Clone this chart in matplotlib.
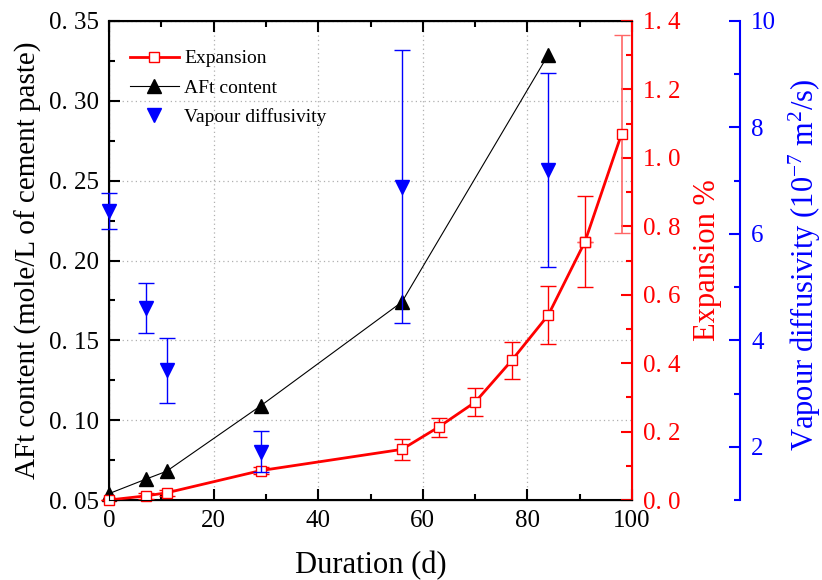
import matplotlib
matplotlib.use("Agg")
import matplotlib.pyplot as plt
from matplotlib.ticker import MultipleLocator, FuncFormatter
from matplotlib.lines import Line2D

plt.rcParams['font.family'] = ['Liberation Serif', 'DejaVu Serif']
plt.rcParams['mathtext.fontset'] = 'custom'
plt.rcParams['mathtext.rm'] = 'Liberation Serif'
plt.rcParams['mathtext.it'] = 'Liberation Serif:italic'

# Expansion (%) with error bars
exp_days = [0, 7, 11, 29, 56, 63, 70, 77, 84, 91, 98]
exp_val = [0.0, 0.012, 0.021, 0.086, 0.148, 0.213, 0.286, 0.408, 0.541, 0.755, 1.07]
exp_err = [0.0, 0.008, 0.008, 0.01, 0.03, 0.028, 0.04, 0.055, 0.084, 0.133, 0.29]

# AFt content (mole/L of cement paste)
aft_days = [0, 7, 11, 29, 56, 84]
aft_val = [0.054, 0.063, 0.068, 0.109, 0.174, 0.329]

# Vapour diffusivity (1e-7 m2/s)
vap_days = [0, 7, 11, 29, 56, 84]
vap_val = [6.43, 4.60, 3.44, 1.91, 6.89, 7.20]
vap_err = [0.34, 0.47, 0.61, 0.38, 2.57, 1.83]


def noclip(container):
    for art in container.get_children():
        art.set_clip_on(False)


fig = plt.figure(figsize=(8.22, 5.8), dpi=100)
ax = fig.add_axes([0.1326, 0.1379, 0.6363, 0.8259])
ax2 = ax.twinx()
ax3 = ax.twinx()
ax3.spines['right'].set_position(('axes', 1.2065))

# AFt (left axis)
ax.plot(aft_days, aft_val, color='black', lw=0.8, marker='^', ms=10,
        mfc='black', mec='black', zorder=3, clip_on=False)
ax.set_xlim(0, 100)
ax.set_ylim(0.05, 0.35)
ax.xaxis.set_major_locator(MultipleLocator(20))
ax.xaxis.set_minor_locator(MultipleLocator(10))
ax.yaxis.set_major_locator(MultipleLocator(0.05))
ax.yaxis.set_minor_locator(MultipleLocator(0.025))
ax.yaxis.set_major_formatter(FuncFormatter(lambda v, p: f"{v:.2f}".replace('.', '. ')))
ax.grid(True, which='major', color='#b0b0b0', ls=(0, (1, 2.5)), lw=0.9)
ax.tick_params(which='both', direction='in', top=True, labelsize=18, width=1.5, pad=7)
ax.tick_params(which='major', length=8)
ax.tick_params(which='minor', length=4)
for s in ['left', 'bottom', 'top']:
    ax.spines[s].set_linewidth(1.5)
ax.set_xlabel('Duration (d)', fontsize=22, labelpad=14)
ax.set_ylabel('AFt content (mole/L of cement paste)', fontsize=21, labelpad=5)

# Expansion (red axis)
red = '#ff0000'
c = ax2.errorbar(exp_days[:-1], exp_val[:-1], yerr=exp_err[:-1], color=red, lw=2,
                 marker='s', ms=7, mfc='white', mec=red, mew=1, ecolor=red,
                 elinewidth=1, capsize=6, capthick=1, zorder=3)
noclip(c)
c = ax2.errorbar(exp_days[-2:], exp_val[-2:], yerr=[0, exp_err[-1]], color=red, lw=2,
                 marker='s', ms=7, mfc='white', mec=red, mew=1, ecolor='#ff6666',
                 elinewidth=1.2, capsize=6, capthick=1.2, zorder=3)
noclip(c)
ax2.set_ylim(0, 1.4)
ax2.yaxis.set_major_locator(MultipleLocator(0.2))
ax2.yaxis.set_minor_locator(MultipleLocator(0.1))
ax2.yaxis.set_major_formatter(FuncFormatter(lambda v, p: f"{v:.1f}".replace('.', '. ')))
ax2.tick_params(which='both', direction='in', colors=red, labelsize=18, width=1.5, pad=8)
ax2.tick_params(which='major', length=8)
ax2.tick_params(which='minor', length=4)
ax2.spines['right'].set_color(red)
ax2.spines['right'].set_linewidth(1.5)
ax2.set_ylabel('Expansion %', color=red, fontsize=22)
ax2.yaxis.set_label_coords(1.116, 0.5)

# Vapour diffusivity (blue axis)
blue = '#0000ff'
c = ax3.errorbar(vap_days, vap_val, yerr=vap_err, fmt='v', color=blue, ms=10,
                 ecolor=blue, elinewidth=1, capsize=6, capthick=1, zorder=4)
noclip(c)
ax3.set_ylim(1, 10)
ax3.yaxis.set_major_locator(MultipleLocator(2))
ax3.yaxis.set_minor_locator(MultipleLocator(1))
ax3.tick_params(which='both', direction='in', colors=blue, labelsize=18, width=1.5, pad=8)
ax3.tick_params(which='major', length=8)
ax3.tick_params(which='minor', length=4)
ax3.spines['right'].set_color(blue)
ax3.spines['right'].set_linewidth(1.5)
ax3.set_ylabel('Vapour diffusivity (10$^{-7}$ m$^{2}$/s)', color=blue, fontsize=22)
ax3.yaxis.set_label_coords(1.295, 0.49)

handles = [
    Line2D([], [], color=red, lw=2, marker='s', ms=7, mfc='white', mec=red),
    Line2D([], [], color='black', lw=0.8, marker='^', ms=10, mfc='black'),
    Line2D([], [], ls='none', color=blue, marker='v', ms=10),
]
ax.legend(handles, ['Expansion', 'AFt content', 'Vapour diffusivity'],
          loc='upper left', bbox_to_anchor=(0.04, 0.94), frameon=False,
          fontsize=14, handlelength=2.5, handletextpad=0.3, labelspacing=0.6,
          borderpad=0, borderaxespad=0)

fig.savefig('out.png', dpi=100)
